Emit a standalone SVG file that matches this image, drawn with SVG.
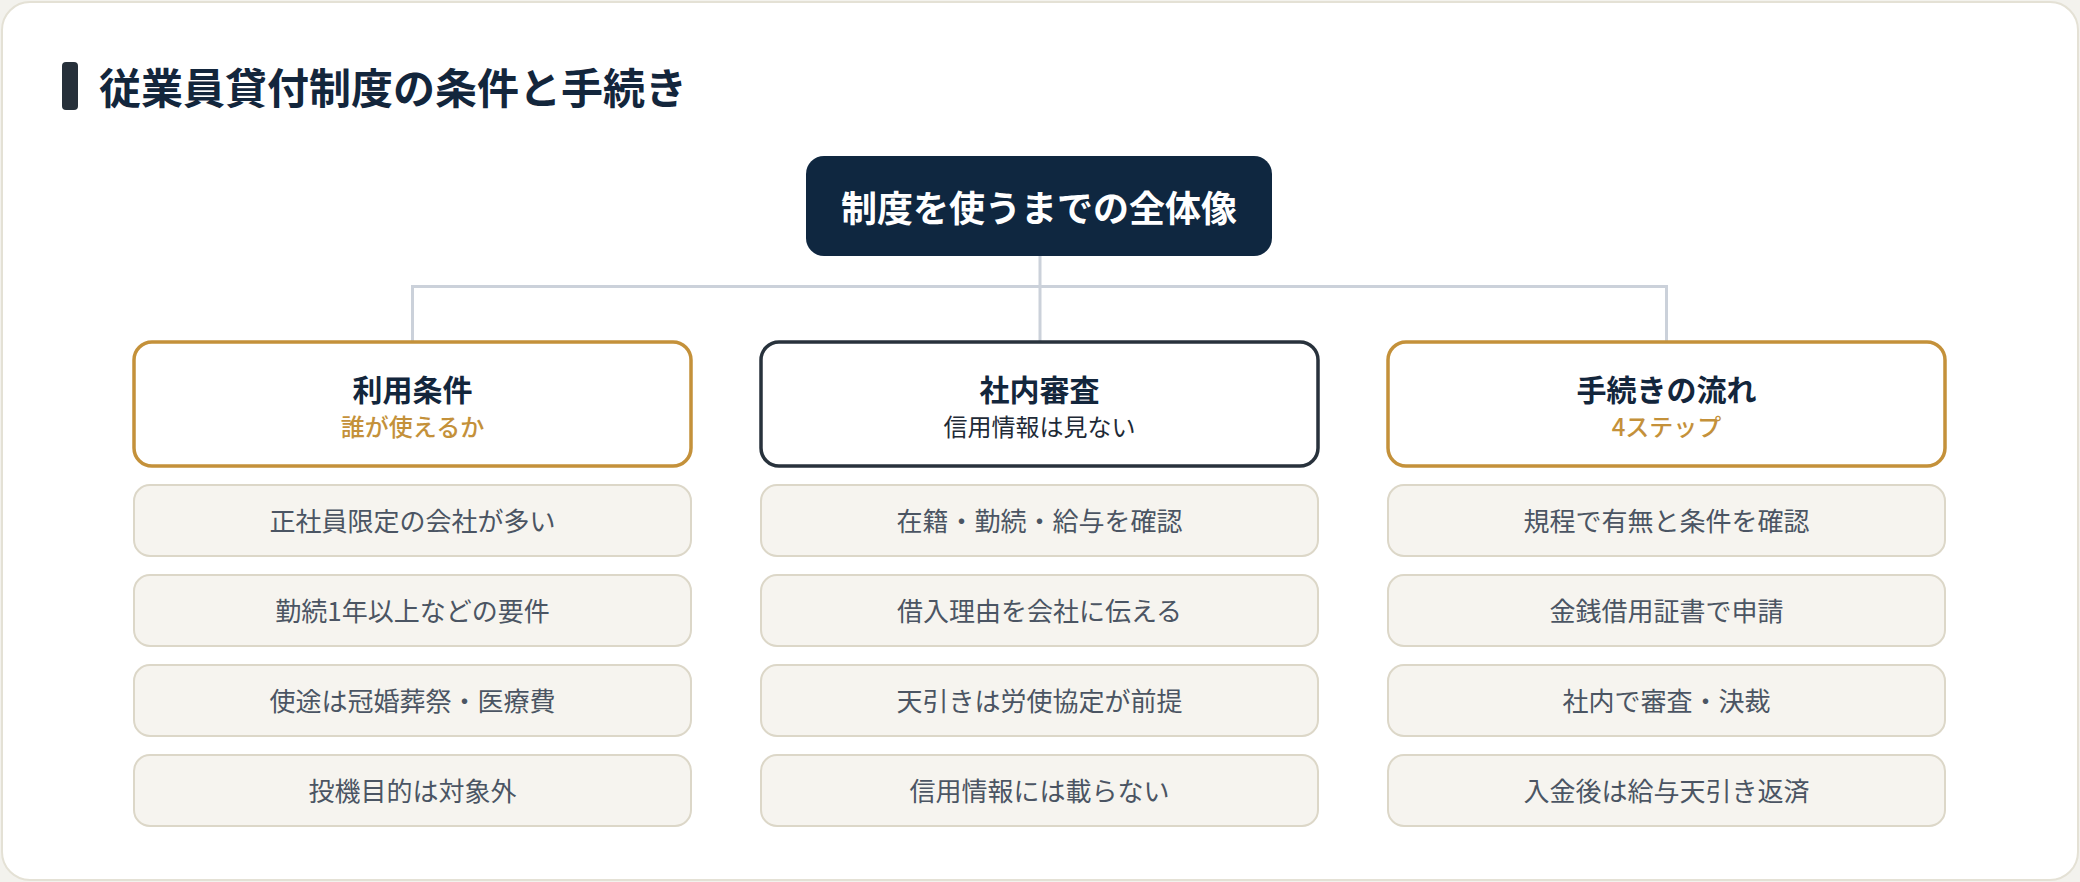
<svg xmlns="http://www.w3.org/2000/svg" width="2080" height="882" viewBox="0 0 2080 882">
<style>
text{font-family:"Noto Sans CJK JP","Noto Sans",sans-serif;text-anchor:middle}
.title{font-size:42px;font-weight:700;fill:#13263c;text-anchor:start}
.root{font-size:36px;font-weight:700;fill:#ffffff}
.hd{fill:#ffffff;stroke-width:3.5}
.gold{stroke:#c4913a}
.dark{stroke:#28323c}
.ht{font-size:30px;font-weight:700;fill:#13263c}
.hs{font-size:24px;font-weight:500}
.hsg{fill:#c4913a}
.hsd{fill:#1e2a36;font-weight:400}
.it{fill:#f6f4ef;stroke:#dcd7c8;stroke-width:2}
.itx{font-size:26px;fill:#4b5563}
.con{stroke:#cbd1da;stroke-width:3;fill:none}
</style>
<rect x="0" y="0" width="2080" height="882" fill="#f3f2ed"/>
<rect x="2" y="2" width="2076" height="878" rx="28" fill="#ffffff" stroke="#e4e1d5" stroke-width="2"/>
<g id="title">
<rect x="62" y="62" width="16" height="48" rx="4" fill="#26303a"/>
<text class="title" x="99" y="104">従業員貸付制度の条件と手続き</text>
</g>
<g id="connectors">
<path class="con" d="M1040 256V286.5M412.5 286.5H1666.5M412.5 285V341M1040 286.5V341M1666.5 285V341"/>
</g>
<g id="root">
<rect x="806" y="156" width="466" height="100" rx="18" fill="#0f2740"/>
<text class="root" x="1039" y="222">制度を使うまでの全体像</text>
</g>
<g id="col1">
<rect class="hd gold" x="134" y="342" width="557" height="124" rx="18"/>
<text class="ht" x="412.5" y="401">利用条件</text>
<text class="hs hsg" x="412.5" y="436">誰が使えるか</text>
</g>
<g id="col2">
<rect class="hd dark" x="761" y="342" width="557" height="124" rx="18"/>
<text class="ht" x="1039.5" y="401">社内審査</text>
<text class="hs hsd" x="1039.5" y="436">信用情報は見ない</text>
</g>
<g id="col3">
<rect class="hd gold" x="1388" y="342" width="557" height="124" rx="18"/>
<text class="ht" x="1666.5" y="401">手続きの流れ</text>
<text class="hs hsg" x="1666.5" y="436">4ステップ</text>
</g>
<g id="c1i1"><rect class="it" x="134" y="485" width="557" height="71" rx="16"/><text class="itx" x="412.5" y="531">正社員限定の会社が多い</text></g>
<g id="c1i2"><rect class="it" x="134" y="575" width="557" height="71" rx="16"/><text class="itx" x="412.5" y="621">勤続1年以上などの要件</text></g>
<g id="c1i3"><rect class="it" x="134" y="665" width="557" height="71" rx="16"/><text class="itx" x="412.5" y="711">使途は冠婚葬祭・医療費</text></g>
<g id="c1i4"><rect class="it" x="134" y="755" width="557" height="71" rx="16"/><text class="itx" x="412.5" y="801">投機目的は対象外</text></g>
<g id="c2i1"><rect class="it" x="761" y="485" width="557" height="71" rx="16"/><text class="itx" x="1039.5" y="531">在籍・勤続・給与を確認</text></g>
<g id="c2i2"><rect class="it" x="761" y="575" width="557" height="71" rx="16"/><text class="itx" x="1039.5" y="621">借入理由を会社に伝える</text></g>
<g id="c2i3"><rect class="it" x="761" y="665" width="557" height="71" rx="16"/><text class="itx" x="1039.5" y="711">天引きは労使協定が前提</text></g>
<g id="c2i4"><rect class="it" x="761" y="755" width="557" height="71" rx="16"/><text class="itx" x="1039.5" y="801">信用情報には載らない</text></g>
<g id="c3i1"><rect class="it" x="1388" y="485" width="557" height="71" rx="16"/><text class="itx" x="1666.5" y="531">規程で有無と条件を確認</text></g>
<g id="c3i2"><rect class="it" x="1388" y="575" width="557" height="71" rx="16"/><text class="itx" x="1666.5" y="621">金銭借用証書で申請</text></g>
<g id="c3i3"><rect class="it" x="1388" y="665" width="557" height="71" rx="16"/><text class="itx" x="1666.5" y="711">社内で審査・決裁</text></g>
<g id="c3i4"><rect class="it" x="1388" y="755" width="557" height="71" rx="16"/><text class="itx" x="1666.5" y="801">入金後は給与天引き返済</text></g>
</svg>
